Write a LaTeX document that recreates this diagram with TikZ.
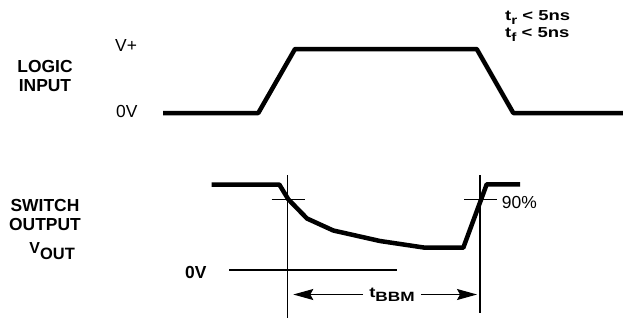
\documentclass[tikz,border=0pt]{standalone}
\usepackage{fontspec}
\setmainfont{Liberation Sans}
\newfontfamily\widesans[FakeStretch=1.28]{Liberation Sans}
\usetikzlibrary{arrows.meta}
\newcommand\lowsub[2][12]{\raisebox{-4bp}{\fontsize{#1}{#1}\selectfont #2}}
\begin{document}
\begin{tikzpicture}[x=1bp,y=-1bp,
    wave/.style={line width=4.5bp,line join=round},
    thin/.style={line width=1.2bp},
    dim/.style={thin,-{Stealth[length=20bp,width=11bp,inset=3bp]}},
    lbl/.style={font=\bfseries\fontsize{17.5}{18.5}\selectfont,align=center,inner sep=0pt},
    lvl/.style={font=\fontsize{17.5}{18.5}\selectfont,inner sep=0pt},
    small/.style={font=\widesans\bfseries\fontsize{14.5}{16.6}\selectfont,inner sep=0pt}]
  \useasboundingbox (0,0) rectangle (623,322);
  % logic input
  \path
    (163,113) coordinate (i0)
    (258.3,113) coordinate (i1)
    (295,49) coordinate (i2)
    (476.7,49) coordinate (i3)
    (513.3,113) coordinate (i4)
    (623,113) coordinate (i5);
  \draw[wave] (i0) -- (i1) -- (i2) -- (i3) -- (i4) -- (i5);
  % switch output
  \path
    (211.7,184.5) coordinate (o0)
    (279.3,184.5) coordinate (o1)
    (288.3,199.3) coordinate (o2)
    (307,218.5) coordinate (o3)
    (333.3,230.5) coordinate (o4)
    (380,241) coordinate (o5)
    (425,247.7) coordinate (o6)
    (463.3,247.7) coordinate (o7)
    (486.7,184.3) coordinate (o8)
    (520,184.3) coordinate (o9);
  \draw[wave] (o0) -- (o1) -- (o2) -- (o3) -- (o4) -- (o5) -- (o6) -- (o7) -- (o8) -- (o9);
  % markers
  \path
    (287.5,175) coordinate (m0) (287.5,318.3) coordinate (m1)
    (480,175) coordinate (m2) (480,313.3) coordinate (m3)
    (271.5,199.3) coordinate (m4) (305,199.3) coordinate (m5)
    (464,199.3) coordinate (m6) (496.7,199.3) coordinate (m7)
    (229.3,270) coordinate (g0) (396.7,270) coordinate (g1)
    (293.3,294.5) coordinate (al) (477,294.5) coordinate (ar);
  \begin{scope}[thin]
    \draw (m0) -- (m1);
    \draw (m2) -- (m3);
    \draw (m4) -- (m5);
    \draw (m6) -- (m7);
    \draw (g0) -- (g1);
  \end{scope}
  % labels
  \node[lbl,anchor=north] (logic) at (45,60.5) {LOGIC\\INPUT};
  \node[lbl,anchor=north] (switch) at (45,199.3) {SWITCH\\OUTPUT};
  \node[lbl,anchor=base west] (vout) at (29.3,253.3) {\fontsize{16}{16}\selectfont V\raisebox{-6bp}{\fontsize{16.5}{16.5}\selectfont OUT}};
  \node[lvl,anchor=base west] (vplus) at (115,51.5) {V+};
  \node[lvl,anchor=base west] (zero) at (116,117) {0V};
  \node[lbl,anchor=base west] (zeroout) at (185,278.3) {0V};
  \node[lvl,anchor=base west] (pct) at (501.7,208.3) {90\%};
  \node[small,anchor=north west,align=left] (rise) at (505,10.5) {t\lowsub{r} < 5ns\\t\lowsub{f} < 5ns};
  \node[small,inner xsep=6bp] (tbbm) at (392,294.5) {t\lowsub[13.5]{BBM}};
  \draw[dim] (tbbm) -- (al);
  \draw[dim] (tbbm) -- (ar);
\end{tikzpicture}
\end{document}
